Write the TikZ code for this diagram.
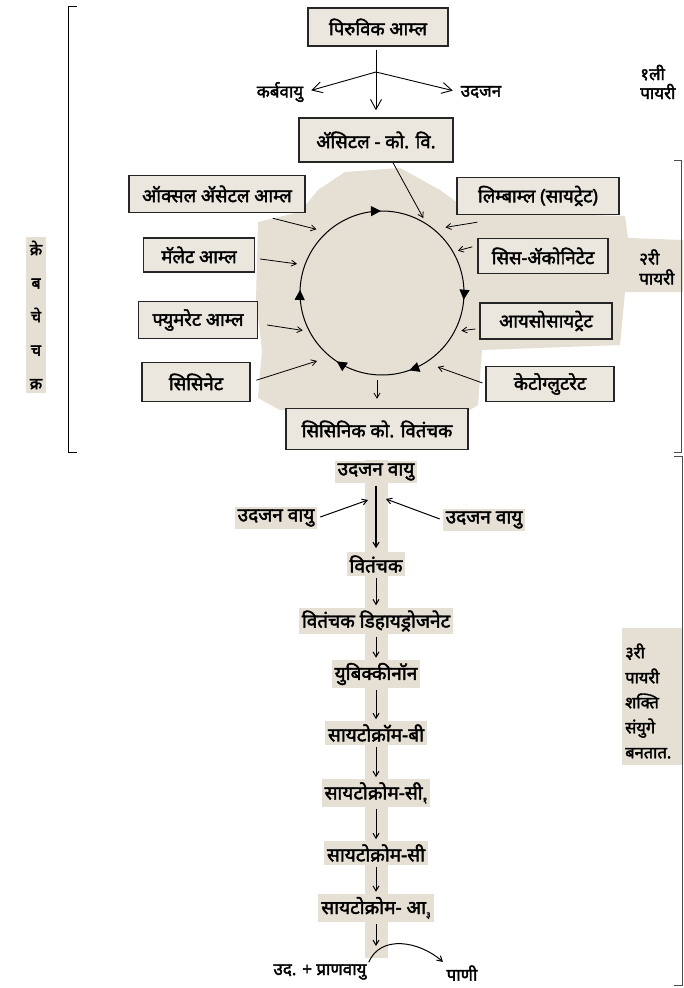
\documentclass[tikz,border=0pt]{standalone}
\usepackage{fontspec}
\newfontfamily\deva[Script=Devanagari, FakeBold=2.2]{Noto Sans}
\usetikzlibrary{arrows.meta,decorations.markings}
\definecolor{paper}{RGB}{229,223,212}
\definecolor{boxfill}{RGB}{236,231,222}

\begin{document}
\begin{tikzpicture}[x=1pt, y=-1pt,
	box/.style={rectangle, draw=black!85, line width=1.4pt, fill=boxfill, minimum height=36pt, inner sep=2pt, font=\deva\fontsize{18.5}{20}\selectfont},
	lbl/.style={fill=paper, inner sep=3pt, font=\deva\fontsize{19}{21}\selectfont},
	txt/.style={inner sep=2pt, font=\deva\fontsize{17}{19}\selectfont},
	arr/.style={-{Straight Barb[length=5pt,width=6pt]}, line width=0.8pt},
	bigarr/.style={-{Straight Barb[length=10pt,width=11pt]}, line width=0.9pt},
	ring/.style={line width=1pt, postaction={decorate}, decoration={markings,
		mark=at position 0.013 with {\arrow{Triangle[length=10pt,width=10pt]}},
		mark=at position 0.196 with {\arrow{Triangle[length=10pt,width=10pt]}},
		mark=at position 0.343 with {\arrow{Triangle[length=10pt,width=10pt]}},
		mark=at position 0.506 with {\arrow{Triangle[length=10pt,width=10pt]}},
		mark=at position 0.748 with {\arrow{Triangle[length=10pt,width=10pt]}}}}]
\newcommand{\dsub}[1]{\raisebox{-0.4ex}{\small #1}}
\fill[white] (0,0) rectangle (683,988);
\useasboundingbox (0,0) rectangle (683,988);
\fill[paper] (258,222) -- (300,212) -- (318,190) -- (345,172) -- (400,168) -- (440,190) -- (470,212) -- (625,216) -- (628,238) -- (683,240) -- (683,292) -- (625,292) -- (620,345) -- (482,350) -- (478,405) -- (470,410) -- (280,410) -- (258,398) -- (262,350) -- (256,300) -- cycle;
\fill[paper] (622,628) rectangle (683,765);
\fill[paper] (365,460) rectangle (388,958);
\draw[line width=1pt] (77,6) -- (68,6) -- (68,452) -- (77,452);
\draw[line width=0.6pt, black!70] (674,160) -- (681,160) -- (681,452) -- (674,452);
\draw[line width=0.6pt, black!70] (674,456) -- (682,456) -- (682,985) -- (674,985);
\node[lbl, align=center, inner sep=4pt, font=\deva\fontsize{16}{33.5}\selectfont] (kreb) at (36,315) {क्रे\\ब\\चे\\च\\क्र};
\node[txt, align=left, anchor=west, font=\deva\fontsize{17}{19}\selectfont] (p1) at (638,82) {१ली\\पायरी};
\node[lbl, align=left, anchor=west, font=\deva\fontsize{17}{20}\selectfont] (p2) at (636,267) {२री\\पायरी};
\node[lbl, align=left, anchor=west, font=\deva\fontsize{16.5}{25}\selectfont] (p3) at (622,701) {३री\\पायरी\\शक्ति\\संयुगे\\बनतात.};
\node[box, minimum width=140pt, minimum height=38pt] (pa) at (378,27) {पिरुविक आम्ल};
\coordinate (br) at (376,72);
\node[txt] (co2) at (280,92) {कर्बवायु};
\node[txt] (uj) at (481,92) {उदजन};
\node[box, minimum width=154pt, minimum height=44pt] (acoa) at (376,140) {ॲसिटल - को. वि.};
\draw[bigarr, shorten <=3pt, shorten >=7pt] (pa.south -| br) -- (acoa.north -| br);
\draw[bigarr, shorten >=6pt] (br) -- (co2.east);
\draw[bigarr, shorten >=6pt] (br) -- (uj.west);
\node[circle, minimum size=164pt, inner sep=0pt, outer sep=0pt] (cyc) at (382,293) {};
\draw[ring] (cyc.center) circle (82);
\node[box, minimum width=176pt, minimum height=37pt] (oaa) at (217,194) {ऑक्सल ॲसेटल आम्ल};
\node[box, minimum width=111pt, minimum height=34pt] (mal) at (199,255) {मॅलेट आम्ल};
\node[box, minimum width=119pt, minimum height=37pt] (fum) at (198,320) {फ्युमरेट आम्ल};
\node[box, minimum width=108pt, minimum height=39pt] (suc) at (196,382) {सिसिनेट};
\node[box, minimum width=182pt, minimum height=41pt] (scoa) at (377,429) {सिसिनिक को. वितंचक};
\node[box, minimum width=162pt, minimum height=37pt] (cit) at (538,196) {लिम्बाम्ल (सायट्रेट)};
\node[box, minimum width=130pt, minimum height=35pt] (cis) at (543,256) {सिस-ॲकोनिटेट};
\node[box, minimum width=132pt, minimum height=36pt] (iso) at (546,321) {आयसोसायट्रेट};
\node[box, minimum width=128pt, minimum height=35pt] (keto) at (550,384) {केटोग्लुटरेट};
\draw[arr, shorten >=7pt] ([xshift=17pt]acoa.south) -- (cyc.57);
\draw[arr, shorten >=11pt] ([shift={(-33,5)}]oaa.south east) -- (cyc.132);
\draw[arr, shorten >=8pt] ([shift={(5,4)}]mal.east) -- (cyc.160);
\draw[arr, shorten >=7pt] ([shift={(9,5)}]fum.east) -- (cyc.208);
\draw[arr, shorten <=6pt, shorten >=14pt] (suc.east) -- (cyc.231);
\draw[arr, shorten >=12pt] ([shift={(21,7)}]cit.south west) -- (cyc.51);
\draw[arr, shorten >=5pt] ([shift={(-5,9)}]cis.north west) -- (cyc.30);
\draw[arr, shorten >=7pt] ([shift={(-4,8)}]iso.west) -- (cyc.-28);
\draw[arr, shorten <=3pt, shorten >=13pt] (keto.west) -- (cyc.-58);
\draw[arr, shorten <=5pt, shorten >=9pt] (scoa.north |- cyc.south) -- (scoa.north);
\node[lbl] (h0) at (376,472) {उदजन वायु};
\node[lbl] (hl) at (276,518) {उदजन वायु};
\node[lbl] (hr) at (484,520) {उदजन वायु};
\coordinate (jl) at (368,500);
\coordinate (jr) at (386,499);
\node[lbl] (co) at (376,564) {वितंचक};
\node[lbl] (cod) at (376,621) {वितंचक डिहायड्रोजनेट};
\node[lbl] (ubq) at (376,674) {युबिक्कीनॉन};
\node[lbl] (cb) at (376,733) {सायटोक्रॉम-बी};
\node[lbl] (cc1) at (376,793) {सायटोक्रोम-सी\dsub{१}};
\node[lbl] (cc) at (376,853) {सायटोक्रोम-सी};
\node[lbl] (ca3) at (376,908) {सायटोक्रोम- आ\dsub{३}};
\node[txt] (ho) at (320,972) {उद. + प्राणवायु};
\node[txt] (wat) at (462,973) {पाणी};
\coordinate (ox) at (376,946);
\draw[arr, line width=1.1pt, shorten <=2pt, shorten >=4pt] (h0) -- (co);
\draw[arr, line width=1pt, shorten <=3pt] (hl.east) -- (jl);
\draw[arr, line width=1pt, shorten <=3pt] (hr.west) -- (jr);
\foreach \a/\b in {co/cod, cod/ubq, ubq/cb, cb/cc1, cc1/cc, cc/ca3}
	\draw[arr, line width=1pt, shorten <=2pt, shorten >=2pt] (\a) -- (\b);
\draw[arr, line width=1pt, shorten <=2pt] (ca3) -- (ox);
\draw[arr, line width=1pt, shorten >=2pt] (ho.north east) .. controls +(12,-28) and +(-25,-22) .. (wat.north west);
\end{tikzpicture}
\end{document}
